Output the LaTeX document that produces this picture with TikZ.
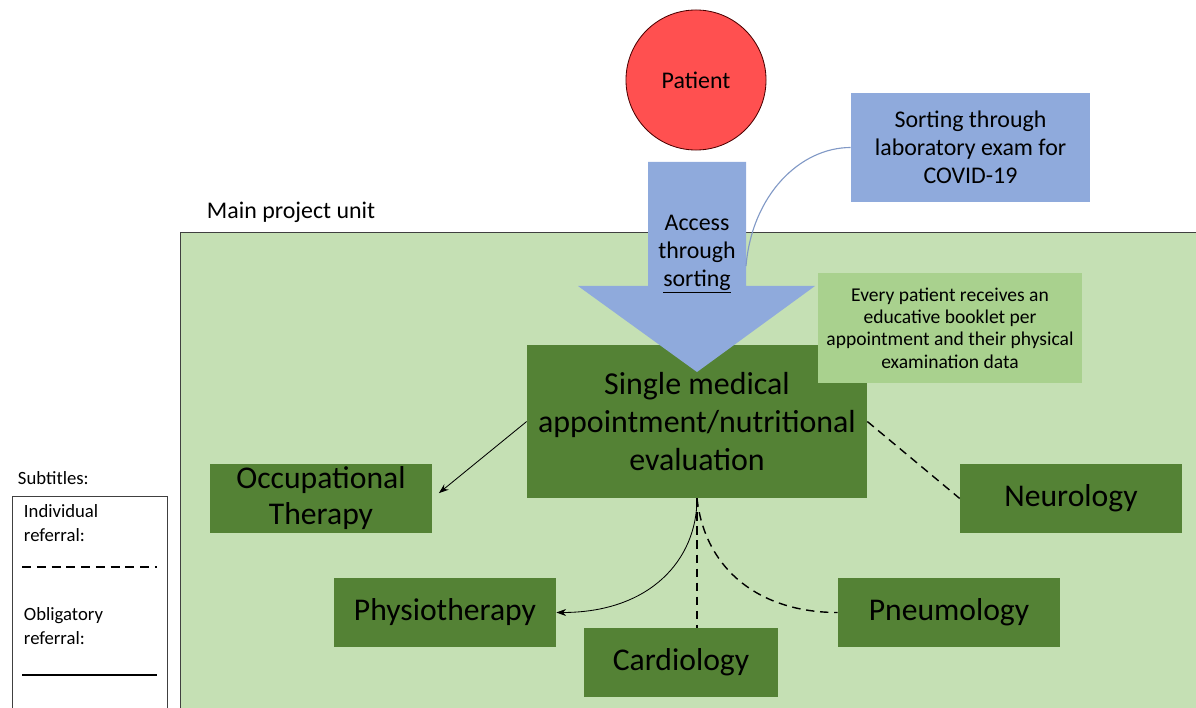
\documentclass[tikz,border=0pt]{standalone}
\usepackage{fontspec}
\setmainfont{Carlito}
\usetikzlibrary{arrows.meta,positioning,calc}
\definecolor{unitgreen}{HTML}{C5E0B4}
\definecolor{darkgreen}{HTML}{548235}
\definecolor{notegreen}{HTML}{A9D18E}
\definecolor{sortblue}{HTML}{8FAADC}
\definecolor{patientred}{HTML}{FF5050}
\tikzset{
  specialty/.style={
    fill=darkgreen,
    align=center,
    inner sep=0pt,
    minimum width=5.55cm,
    minimum height=1.725cm,
    font=\fontsize{22.5}{25.6}\selectfont
  },
  infobox/.style={
    align=center,
    inner sep=0pt,
    font=\fontsize{17}{20}\selectfont
  },
  obligatory/.style={-{Stealth[length=7pt,width=5pt]}, line width=0.6pt},
  individual/.style={line width=1pt, dash pattern=on 6pt off 4pt}
}
\begin{document}
\begin{tikzpicture}[x=0.025cm, y=-0.025cm]
  \useasboundingbox (0,0) rectangle (1196,708);
  % project unit and legend frames
  \draw[fill=unitgreen, draw=black!75, line width=0.6pt] (180,232) rectangle (1220,730);
  \node[anchor=west, font=\fontsize{17}{20}\selectfont] (unitlabel) at (202,212) {Main project unit};
  \node[anchor=west, font=\fontsize{13.3}{17}\selectfont] (subtitles) at (13,478) {Subtitles:};
  \draw[draw=black!75, line width=0.6pt] (12,730) -- (12,496) -- (167,496) -- (167,730);
  \node[anchor=west, align=left, font=\fontsize{13.3}{17}\selectfont] (indiv) at (19,523) {Individual\\referral:};
  \node[anchor=west, align=left, font=\fontsize{13.3}{17}\selectfont] (oblig) at (19,626) {Obligatory\\referral:};
  \draw[line width=1.2pt, dash pattern=on 6.5pt off 4pt] (22,567) -- (157,567);
  \draw[line width=1.2pt] (22,675) -- (157,675);

  % central appointment
  \node[specialty, minimum width=8.5cm, minimum height=3.825cm, font=\fontsize{22.7}{27}\selectfont] (main) at (697,421.5)
    {Single medical\\appointment/nutritional\\evaluation};

  % access arrow
  \fill[sortblue] (648,162) -- (746,162) -- (746,286) -- (815,286) -- (697,372)
    -- (578,286) -- (648,286) -- cycle;
  \node[infobox] (access) at (697,254) {Access\\through\\\underline{sorting}};
  \coordinate (accessedge) at (746,266);

  \node[infobox, fill=sortblue, minimum width=5.975cm, minimum height=2.725cm] (covid) at (970.5,147.5)
    {Sorting through\\laboratory exam for\\COVID-19};
  \draw[sortblue!90!black, line width=0.8pt] (covid.west) .. controls (800,147.5) and (752,195) .. (accessedge);

  \node[infobox, fill=notegreen, minimum width=6.6cm, minimum height=2.75cm, font=\fontsize{13.9}{15.8}\selectfont] (booklet) at (950,328)
    {Every patient receives an\\educative booklet per\\appointment and their physical\\examination data};

  \node[circle, fill=patientred, draw=black!70!red, line width=0.6pt, minimum size=3.5cm, inner sep=0pt,
    font=\fontsize{17}{20}\selectfont] (patient) at (696,80) {Patient};

  % specialties
  \node[specialty] (occup) at (321,498.5) {Occupational\\Therapy};
  \node[specialty] (neuro) at (1071,498.5) {Neurology};
  \node[specialty] (physio) at (445,612.5) {Physiotherapy};
  \node[specialty] (pneumo) at (949,612.5) {Pneumology};
  \node[specialty, minimum width=4.85cm] (cardio) at (681,662.5) {Cardiology};

  % referrals
  \draw[obligatory, shorten >=6pt] (main.west) -- (occup.east);
  \draw[obligatory] (main.south) .. controls (697,560) and (650,612.5) .. (physio.east);
  \draw[individual] (main.east) -- (neuro.west);
  \draw[individual] (main.south) -- (main.south |- cardio.north);
  \draw[individual] (main.south) .. controls (705,570) and (760,612.5) .. (pneumo.west);
\end{tikzpicture}
\end{document}
